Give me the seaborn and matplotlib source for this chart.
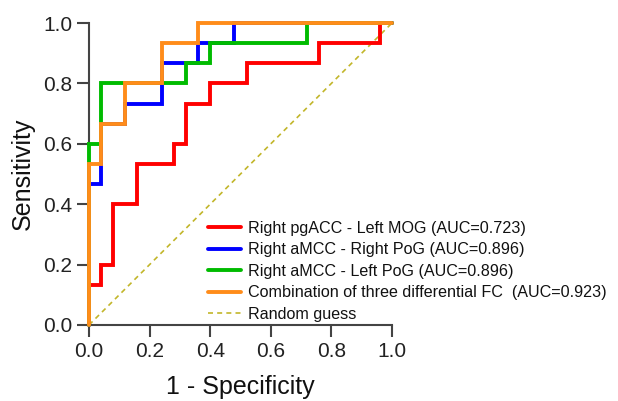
import matplotlib
matplotlib.use("Agg")
import matplotlib.pyplot as plt
import seaborn as sns
import pandas as pd
from matplotlib.lines import Line2D

# ROC data (1 - specificity, sensitivity) corner points
red_fpr = [0, 0, 0.04, 0.04, 0.08, 0.08, 0.16, 0.16, 0.28, 0.28, 0.32, 0.32, 0.40, 0.40, 0.52, 0.52, 0.76, 0.76, 0.96, 0.96, 1.0]
red_tpr = [0, 0.133, 0.133, 0.2, 0.2, 0.4, 0.4, 0.533, 0.533, 0.6, 0.6, 0.733, 0.733, 0.8, 0.8, 0.867, 0.867, 0.933, 0.933, 1.0, 1.0]

blue_fpr = [0, 0, 0.04, 0.04, 0.12, 0.12, 0.24, 0.24, 0.36, 0.36, 0.48, 0.48, 1.0]
blue_tpr = [0, 0.467, 0.467, 0.667, 0.667, 0.733, 0.733, 0.867, 0.867, 0.933, 0.933, 1.0, 1.0]

green_fpr = [0, 0, 0.04, 0.04, 0.32, 0.32, 0.40, 0.40, 0.72, 0.72, 1.0]
green_tpr = [0, 0.6, 0.6, 0.8, 0.8, 0.867, 0.867, 0.933, 0.933, 1.0, 1.0]

orange_fpr = [0, 0, 0.04, 0.04, 0.12, 0.12, 0.24, 0.24, 0.36, 0.36, 1.0]
orange_tpr = [0, 0.533, 0.533, 0.667, 0.667, 0.8, 0.8, 0.933, 0.933, 1.0, 1.0]

random_x = [0, 1]
random_y = [0, 1]

labels = [
    "Right pgACC - Left MOG (AUC=0.723)",
    "Right aMCC - Right PoG (AUC=0.896)",
    "Right aMCC - Left PoG (AUC=0.896)",
    "Combination of three differential FC  (AUC=0.923)",
    "Random guess",
]
colors = ["#FF0000", "#0000FF", "#00BB00", "#FF8C1A", "#C2B62A"]
ticks = [0.0, 0.2, 0.4, 0.6, 0.8, 1.0]
tick_labels = ["0.0", "0.2", "0.4", "0.6", "0.8", "1.0"]

sns.set_style("ticks")
plt.rcParams["font.family"] = ["Liberation Sans", "DejaVu Sans"]

fig = plt.figure(figsize=(6.18, 4.01), dpi=100)
ax = fig.add_axes([89 / 618, 1 - 325 / 401, 303 / 618, 302 / 401])

dfr = pd.DataFrame({"x": random_x, "y": random_y})
sns.lineplot(data=dfr, x="x", y="y", ax=ax, color=colors[4], linewidth=1.2,
             linestyle=(0, (3, 2.5)), label="_nolegend_", sort=False, estimator=None, zorder=1)

series = [(red_fpr, red_tpr), (blue_fpr, blue_tpr), (green_fpr, green_tpr), (orange_fpr, orange_tpr)]
for (fx, ty), lab, col in zip(series, labels[:4], colors[:4]):
    df = pd.DataFrame({"fpr": fx, "tpr": ty})
    sns.lineplot(data=df, x="fpr", y="tpr", sort=False, estimator=None, ax=ax,
                 color=col, linewidth=2.8, label=lab, clip_on=False,
                 solid_joinstyle="miter", zorder=3)

ax.set_xlim(0, 1)
ax.set_ylim(0, 1)
ax.set_xticks(ticks)
ax.set_xticklabels(tick_labels)
ax.set_yticks(ticks)
ax.set_yticklabels(tick_labels)
sns.despine(ax=ax)
for s in ["left", "bottom"]:
    ax.spines[s].set_color("#444444")
    ax.spines[s].set_linewidth(1.5)
ax.tick_params(axis="both", length=8.5, width=1.5, color="#444444", labelsize=15,
               labelcolor="#222222", pad=3.5)
ax.set_xlabel("1 - Specificity", fontsize=18, color="#111111", labelpad=10)
ax.set_ylabel("Sensitivity", fontsize=18, color="#111111", labelpad=6)

handles, labs = ax.get_legend_handles_labels()
handles = handles[:4] + [Line2D([], [], color=colors[4], linewidth=1.2, linestyle=(0, (3, 2.5)))]
labs = labs[:4] + [labels[4]]
leg = ax.legend(handles, labs, loc="upper left", bbox_to_anchor=(0.394, 0.345), frameon=False,
                fontsize=11.6, handlelength=2.0, handletextpad=0.45, labelspacing=0.4,
                borderaxespad=0, borderpad=0)
for t in leg.get_texts():
    t.set_color("#111111")

fig.savefig("out.png", dpi=100)
